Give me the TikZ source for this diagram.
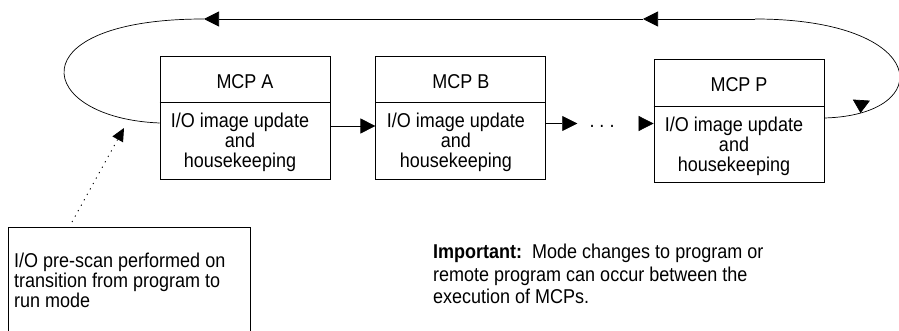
\documentclass[tikz,border=0pt]{standalone}
\usepackage{fontspec}
\setmainfont{Liberation Sans}[FakeStretch=0.9]
\usetikzlibrary{arrows.meta,positioning,calc,decorations.markings}

\begin{document}
\begin{tikzpicture}[
  x=1pt,y=-1pt,
  mcp/.style={draw,line width=0.8pt,minimum width=170pt,minimum height=123pt,inner sep=0pt},
  lbl/.style={font=\fontsize{20}{20}\selectfont,align=center,inner sep=0pt},
  note/.style={font=\fontsize{20}{20}\selectfont,align=left,inner sep=0pt,anchor=north west},
  arr/.style={-{Triangle[length=15pt,width=15pt]},line width=0.7pt},
  ring/.style={line width=0.7pt},
  dotarr/.style={-{Triangle[length=13pt,width=12pt]},line width=0.9pt,dash pattern=on 1.2pt off 5pt}
]
\path[use as bounding box,clip] (0,0) rectangle (899,331);

% the three MCP boxes
\node[mcp] (mcpA) at (245,117.5) {};
\node[mcp,right=45pt of mcpA] (mcpB) {};
\node[mcp] (mcpP) at (739,121) {};
\foreach \m in {A,B,P}{
  \node[lbl] (title\m) at ($(mcp\m.north)+(0,26)$) {MCP \m};
  \draw[line width=0.8pt] ($(mcp\m.north west)+(0,47)$) -- ($(mcp\m.north east)+(0,47)$);
  \node[lbl] (body\m) at ($(mcp\m.south)+(-5,-37)$) {I/O image update\\and\\housekeeping};
}
\node[lbl,text height=8pt,text depth=0pt] (dots) at (602,123.5) {.\ .\ .};

\draw[arr] ([yshift=-8.5pt]mcpA.east) -- ([yshift=-8.5pt]mcpB.west);
\draw[arr,shorten >=12pt] (mcpB.east |- dots) -- (dots.west);
\draw[arr,shorten <=25pt] (dots.east) -- (mcpP.west |- dots);

% loop back over the top
\coordinate (topR) at (755,19);
\coordinate (topM) at (643,19);
\coordinate (topL) at (204,19);
\draw[arr] (topR) -- (topM);
\draw[arr] (topM) -- (topL);
\draw[ring] (topL) .. controls (15,19) and (35,118) .. ([yshift=-5.5pt]mcpA.west);
\draw[ring,postaction={decorate},decoration={markings,
  mark=at position 0.86 with {\pgftransformrotate{71}\arrow{Triangle[length=13pt,width=17pt]}}}]
  (topR) .. controls (930,19) and (938,115) .. ([yshift=3pt]mcpP.east);

% pre-scan note
\node[draw,line width=0.8pt,minimum width=242pt,minimum height=130pt,inner sep=0pt,anchor=north west] (prescan) at (8,227) {};
\node[note] (prescantext) at (14,253) {I/O pre-scan performed on\\transition from program to\\run mode};
\coordinate (scanfoot) at ($(prescan.north west)+(64,-5)$);
\coordinate (scantip) at (124,128);
\draw[dotarr] (scanfoot) -- (scantip);

\node[note,font=\fontsize{20}{22.5}\selectfont] (important) at (433,244)
  {\textbf{Important:}\ \ Mode changes to program or\\remote program can occur between the\\execution of MCPs.};
\end{tikzpicture}
\end{document}
